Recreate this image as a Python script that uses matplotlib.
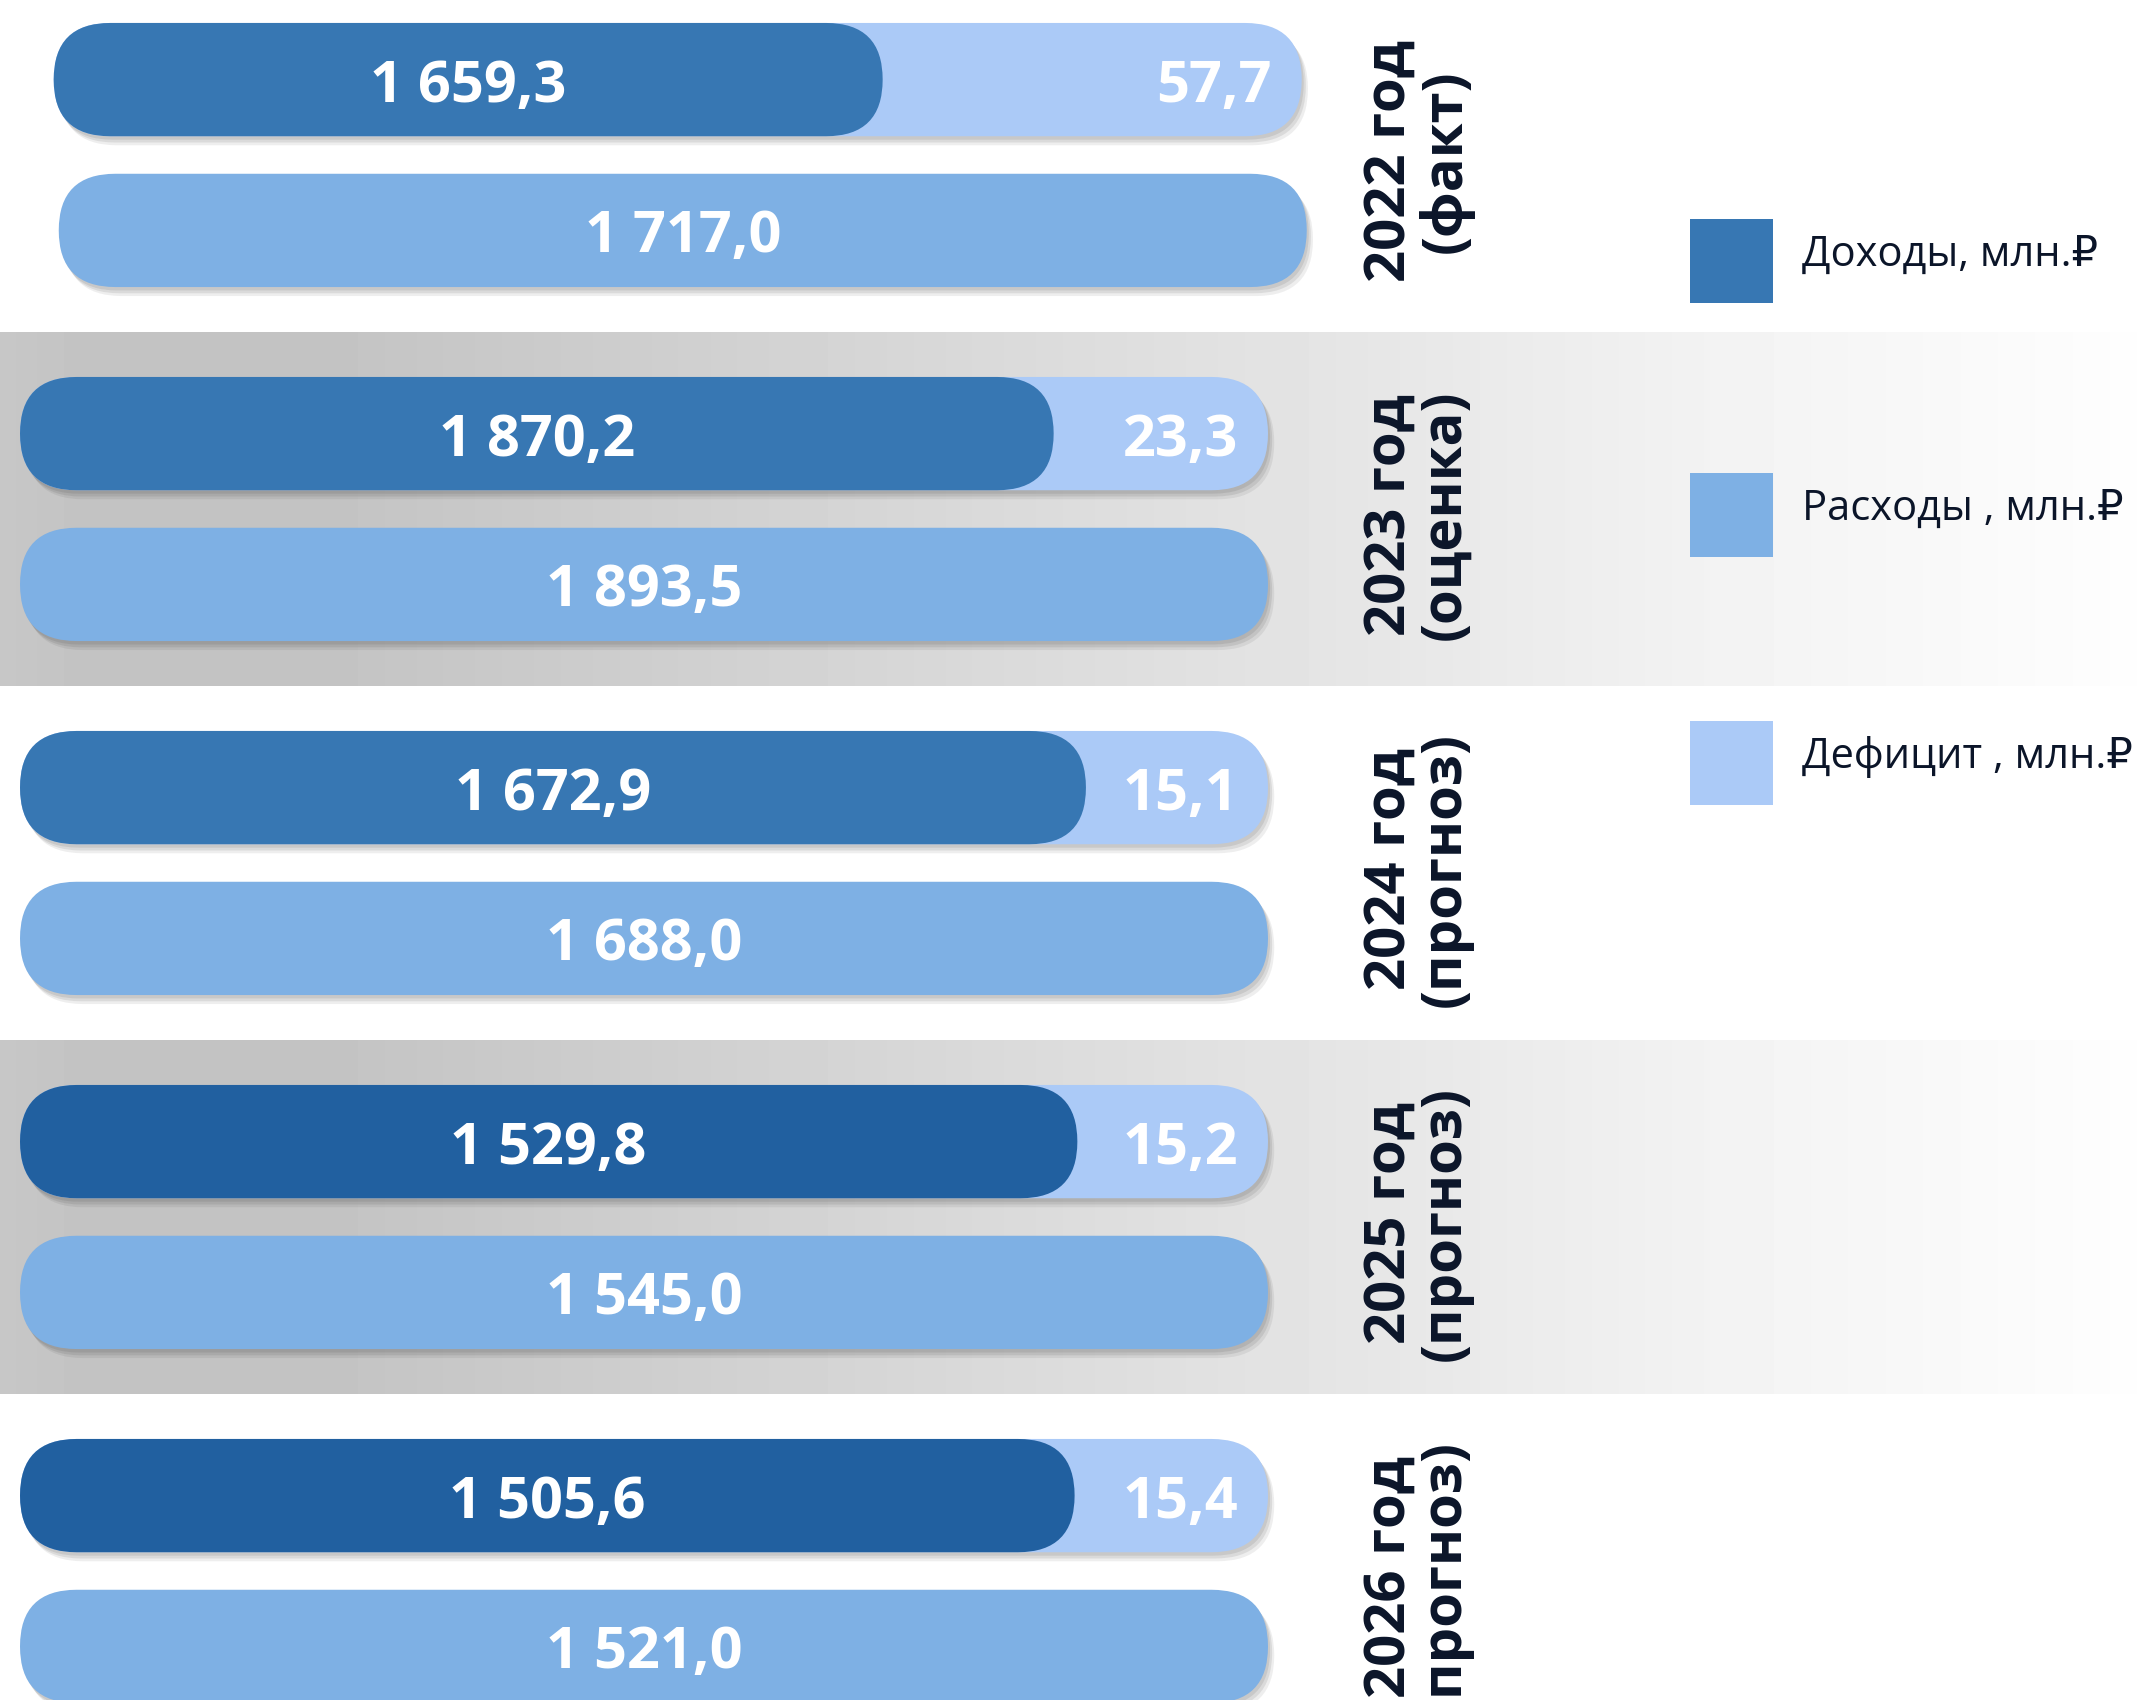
import numpy as np
import matplotlib.pyplot as plt
import matplotlib.patheffects as pe
from matplotlib.patches import FancyBboxPatch, Rectangle

plt.rcParams['font.family'] = ['Open Sans', 'DejaVu Sans']

# data (млн. руб.)
years = ['2022 год\n(факт)', '2023 год\n(оценка)', '2024 год\n(прогноз)',
         '2025 год\n(прогноз)', '2026 год\n(прогноз)']
income = np.array([1659.3, 1870.2, 1672.9, 1529.8, 1505.6])
expense = np.array([1717.0, 1893.5, 1688.0, 1545.0, 1521.0])
deficit = np.array([57.7, 23.3, 15.1, 15.2, 15.4])
legend_labels = ['Доходы, млн.₽', 'Расходы , млн.₽', 'Дефицит , млн.₽']

# colours
c_income = ['#3777b3', '#3777b3', '#3777b3', '#2160a0', '#2160a0']
c_expense = '#7eb0e4'
c_deficit = '#abcaf7'
c_text = '#0b1529'

W, H = 2137, 1700
fig = plt.figure(figsize=(W / 100, H / 100), dpi=100)
ax = fig.add_axes([0, 0, 1, 1])
ax.axis('off')

# every row is drawn relative to its own expenditure (all bars the same length);
# the deficit part is stretched, as in the original infographic, so its label fits
share = deficit / expense
deficit_shown = 0.077 + 7.7 * share
income_shown = (income + deficit) / expense - deficit_shown

px_x, px_y = 1248, 354          # pixels per data unit
left_px, row0_px = 20, 155
xlim = (-left_px / px_x, (W - left_px) / px_x)
ylim = ((H - row0_px) / px_y, -row0_px / px_y)

rows = np.arange(len(years))
bh, off = 0.32, 0.213
shift = np.zeros(len(years))
shift[0] = 0.027                # the first group sits a bit to the right

# gray gradient bands behind every second year
xs = np.linspace(0, 1, 400)
grad = np.interp(xs, [0, 0.04, 0.15, 0.45, 0.65, 0.8, 1.0],
                 [0.78, 0.765, 0.765, 0.85, 0.905, 0.95, 0.995])
for i in rows[1::2]:
    ax.imshow(grad[None, :], extent=(xlim[0], xlim[1], i + 0.5, i - 0.5),
              cmap='gray', vmin=0, vmax=1, aspect='auto', zorder=0)

ax.set_xlim(*xlim)
ax.set_ylim(*ylim)

top = ax.barh(rows - off, (income + deficit) / expense, left=shift, height=bh, color=c_deficit)
inc = ax.barh(rows - off, income_shown, left=shift, height=bh, color=c_income)
exp = ax.barh(rows + off, expense / expense, left=shift * 1.15, height=bh, color=c_expense)

m = px_x / px_y
shadow = [pe.SimplePatchShadow(offset=(1.5, -2.5), shadow_rgbFace='#303030', alpha=0.10),
          pe.SimplePatchShadow(offset=(3, -4.5), shadow_rgbFace='#303030', alpha=0.10),
          pe.SimplePatchShadow(offset=(4.5, -6.5), shadow_rgbFace='#303030', alpha=0.08),
          pe.Normal()]


def to_pill(bars, z, fx=None):
    for b in bars:
        h = b.get_height()
        p = FancyBboxPatch((b.get_x(), b.get_y()), b.get_width(), h,
                           boxstyle=f'round,pad=0,rounding_size={h / (2 * m)}',
                           mutation_aspect=m, facecolor=b.get_facecolor(),
                           edgecolor='none', zorder=z)
        if fx:
            p.set_path_effects(fx)
        ax.add_patch(p)
        b.remove()


to_pill(top, 2, shadow)
to_pill(exp, 2, shadow)
to_pill(inc, 3)


def fmt(v):
    return f'{v:,.1f}'.replace(',', ' ').replace('.', ',')


lab = dict(color='white', fontsize=41.5, fontweight='bold', va='center_baseline', zorder=5)
for i in rows:
    ax.text(shift[i] + income_shown[i] / 2, i - off, fmt(income[i]), ha='center', **lab)
    ax.text(shift[i] + 1 - 0.024, i - off, fmt(deficit[i]), ha='right', **lab)
    ax.text(shift[i] * 1.15 + 0.5, i + off, fmt(expense[i]), ha='center', **lab)
    ax.text(1.120, i + 0.017, years[i], rotation=90, ha='center', va='center',
            multialignment='center', linespacing=1.0, fontsize=40.5,
            fontweight='bold', color=c_text, zorder=5)

# legend
lax = fig.add_axes([0, 0, 1, 1])
lax.set_xlim(0, W)
lax.set_ylim(H, 0)
lax.axis('off')
for k, (lbl, col) in enumerate(zip(legend_labels, [c_income[0], c_expense, c_deficit])):
    y0 = [219, 473, 721][k]
    lax.add_patch(Rectangle((1690, y0), 83, 84, facecolor=col, edgecolor='none'))
    lax.text(1802, y0 + 31, lbl, fontsize=30, color=c_text, ha='left', va='center_baseline')

fig.savefig('out.png', dpi=100)
